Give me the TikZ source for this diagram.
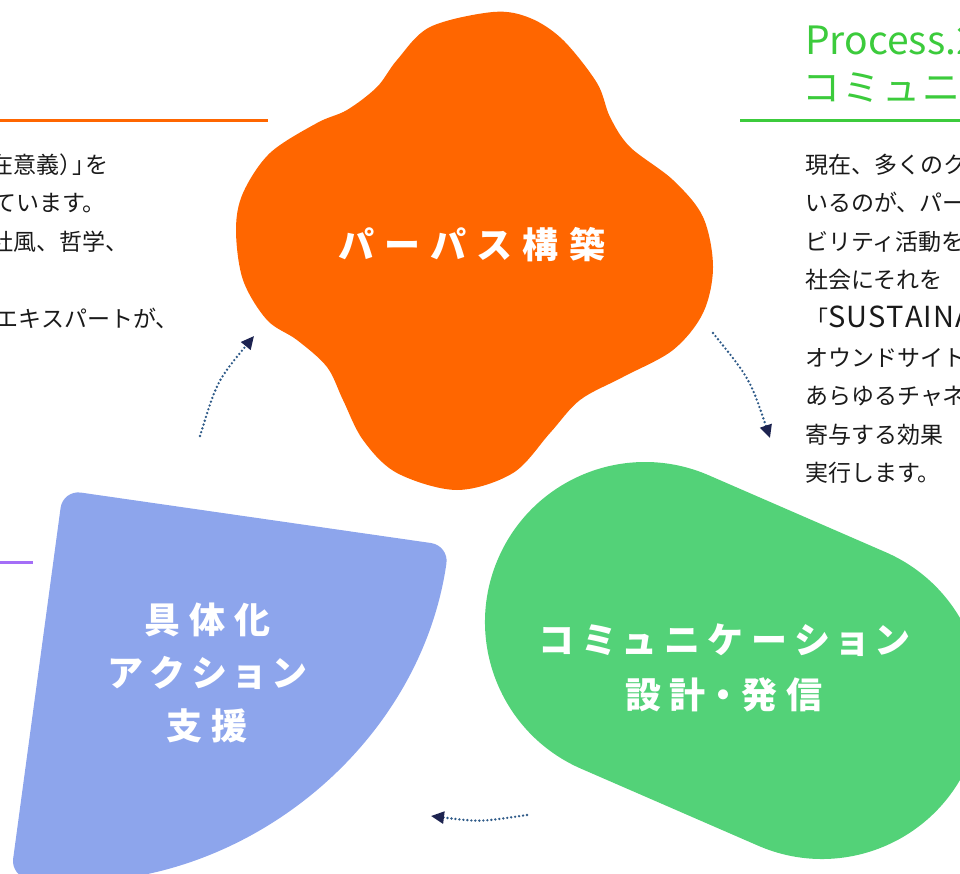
\documentclass[tikz,border=0pt]{standalone}
\usepackage{fontspec}
\setmainfont{Noto Sans CJK JP}
\newfontfamily\bodyfont{Noto Sans CJK JP}
\newfontfamily\labelfont{Noto Sans CJK JP}[RawFeature=+palt]
\usetikzlibrary{arrows.meta}
\definecolor{orangeC}{HTML}{FF6600}
\definecolor{blueC}{HTML}{8DA5EC}
\definecolor{greenC}{HTML}{53D278}
\definecolor{lineGreen}{HTML}{3CCB3C}
\definecolor{purpleC}{HTML}{A46EF7}
\definecolor{dotC}{HTML}{2E5A88}
\definecolor{tipC}{HTML}{1D2350}
\definecolor{textC}{HTML}{1A1A1A}
\makeatletter
\newcommand\spacedtext[2]{{\def\sp@sep{}\@tfor\sp@c:=#2\do{\sp@sep\sp@c\def\sp@sep{\hspace*{#1}}}}}
\makeatother
\begin{document}
\begin{tikzpicture}[x=1pt,y=-1pt,
  bodytext/.style={anchor=base west, inner sep=0pt, text=textC, font=\bodyfont\fontsize{23}{23}\selectfont},
  labeltext/.style={text=white, align=center, inner sep=0pt, font=\labelfont\bfseries\fontsize{36}{53}\selectfont},
  headtext/.style={anchor=base west, inner sep=0pt, text=lineGreen},
  dotarrow/.style={draw=dotC, line width=2.6pt, line cap=round, dash pattern=on 0pt off 4pt, -{Triangle[length=13pt,width=12pt,color=tipC,fill=tipC]}},
  rulestyle/.style={line width=3pt}
]
\useasboundingbox (0,0) rectangle (960,874);
\clip (0,0) rectangle (960,874);

% orange blob
\fill[orangeC] plot[smooth cycle, tension=0.55] coordinates {(493,12) (430,27) (397,60) (377,87) (347,110) (317,123) (270,153) (243,193) (236,230) (243,280) (267,320) (297,340) (327,367) (343,400) (363,440) (397,473) (457,490) (513,473) (550,433) (580,400) (623,377) (673,350) (703,313) (713,267) (703,217) (673,180) (630,147) (610,117) (597,83) (563,40) (530,18)};

% blue sector
\fill[blueC, rounded corners=18pt] (63,490) -- ++(8.2:390) arc[start angle=8.2, end angle=97.7, radius=390] -- cycle;

% green stadium
\fill[greenC] (708.8,475.3) -- ++(23.5:193) arc[start angle=-66.5, end angle=113.5, radius=160] -- ++(203.5:193) arc[start angle=113.5, end angle=293.5, radius=160] -- cycle;

% rules
\coordinate (ol1) at (0,121); \coordinate (ol2) at (268,121);
\draw[rulestyle, orangeC] (ol1) -- (ol2);
\coordinate (gl1) at (740,121); \coordinate (gl2) at (960,121);
\draw[rulestyle, lineGreen] (gl1) -- (gl2);
\coordinate (pl1) at (0,562); \coordinate (pl2) at (33,562);
\draw[rulestyle, purpleC] (pl1) -- (pl2);

% arrows
\coordinate (a1s) at (200,436); \coordinate (a1e) at (254,336);
\draw[dotarrow] (a1s) .. controls (217,381) .. (a1e);
\coordinate (a2s) at (713,333); \coordinate (a2e) at (770,438);
\draw[dotarrow] (a2s) .. controls (750,379) .. (a2e);
\coordinate (a3s) at (527,815); \coordinate (a3e) at (431,816);
\draw[dotarrow] (a3s) .. controls (480,822) .. (a3e);

% labels
\node[labeltext] (purpose) at (472,245) {\spacedtext{11pt}{パーパス構築}};
\node[labeltext] (action) at (207,673) {\spacedtext{9pt}{具体化}\\\spacedtext{9pt}{アクション}\\\spacedtext{9pt}{支援}};
\node[labeltext, font=\labelfont\bfseries\fontsize{36}{55}\selectfont] (comm) at (724,668) {\spacedtext{9pt}{コミュニケーション}\\\spacedtext{9pt}{設計・発信}};

% header right
\node[headtext, font=\bodyfont\fontsize{39}{39}\selectfont] (proc) at (805,55) {Process.2};
\node[headtext, font=\bodyfont\fontsize{38}{38}\selectfont] (proctitle) at (802,102) {\spacedtext{2pt}{コミュニ}};

% left body text
\node[bodytext] (l1) at (-10,173.5) {在意義）\kern-10pt」\kern-10ptを};
\node[bodytext] (l2) at (-7,212) {ています。};
\node[bodytext] (l3) at (-10,250.5) {社風、哲学、};
\node[bodytext] (l5) at (-4.5,327.5) {エキスパートが、};

% right body text
\node[bodytext] (r1) at (805,173.5) {現在、多くのク};
\node[bodytext] (r2) at (805,212) {いるのが、パー};
\node[bodytext] (r3) at (805,250.5) {ビリティ活動を};
\node[bodytext] (r4) at (805,289) {社会にそれを};
\node[bodytext] (r5) at (805,327.5) {「{\fontsize{29}{29}\selectfont\spacedtext{1pt}{SUSTAINA}}};
\node[bodytext] (r6) at (805,366) {オウンドサイト};
\node[bodytext] (r7) at (805,404.5) {あらゆるチャネ};
\node[bodytext] (r8) at (805,443) {寄与する効果};
\node[bodytext] (r9) at (805,481.5) {実行します。};
\end{tikzpicture}
\end{document}
